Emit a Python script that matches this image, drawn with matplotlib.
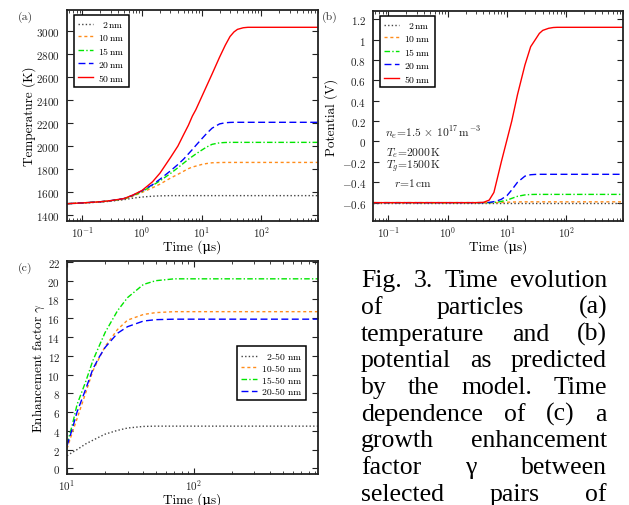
import numpy as np
import matplotlib
matplotlib.use('Agg')
import matplotlib.pyplot as plt
from matplotlib.ticker import FuncFormatter, LogLocator, MultipleLocator, NullFormatter

plt.rcParams.update({
    'font.family': ['cmr10', 'DejaVu Serif'],
    'mathtext.fontset': 'cm',
    'axes.formatter.use_mathtext': True,
    'axes.unicode_minus': True,
})

# ---------------- data ----------------
t_ab = [0.055, 0.1, 0.2, 0.3, 0.5, 0.7, 1, 1.5, 2, 3, 4, 5, 6, 7, 8, 10, 12, 15,
        20, 25, 30, 35, 40, 50, 60, 70, 100, 300, 900]

temp_2nm = [1500, 1505, 1514, 1522, 1535, 1548, 1558, 1565, 1568, 1570, 1570, 1570, 1570,
            1570, 1570, 1570, 1570, 1570, 1570, 1570, 1570, 1570, 1570, 1570, 1570, 1570,
            1570, 1570, 1570]
temp_10nm = [1500, 1507, 1516, 1525, 1540, 1565, 1598, 1638, 1670, 1722, 1755, 1782, 1804,
             1818, 1826, 1840, 1848, 1855, 1857, 1858, 1858, 1858, 1858, 1858, 1858, 1858,
             1858, 1858, 1858]
temp_15nm = [1500, 1507, 1517, 1526, 1543, 1570, 1605, 1658, 1698, 1762, 1812, 1852, 1885,
             1910, 1931, 1964, 1990, 2015, 2028, 2031, 2032, 2032, 2032, 2032, 2032, 2032,
             2032, 2032, 2032]
temp_20nm = [1500, 1507, 1517, 1527, 1545, 1573, 1612, 1665, 1712, 1785, 1840, 1887, 1932,
             1970, 2005, 2061, 2106, 2155, 2192, 2202, 2205, 2206, 2206, 2206, 2206, 2206,
             2206, 2206, 2206]
temp_50nm = [1500, 1507, 1517, 1527, 1545, 1575, 1615, 1690, 1765, 1900, 2000, 2100, 2180,
             2260, 2315, 2425, 2515, 2625, 2770, 2875, 2950, 2990, 3012, 3026, 3030, 3030,
             3030, 3030, 3030]

pot_2nm = [-0.6] * 29
pot_10nm = [-0.6, -0.6, -0.6, -0.6, -0.6, -0.6, -0.6, -0.6, -0.6, -0.6, -0.6, -0.6, -0.6,
            -0.599, -0.598, -0.596, -0.594, -0.593, -0.592, -0.592, -0.592, -0.592, -0.592,
            -0.592, -0.592, -0.592, -0.592, -0.592, -0.592]
pot_15nm = [-0.6, -0.6, -0.6, -0.6, -0.6, -0.6, -0.6, -0.6, -0.6, -0.6, -0.6, -0.6, -0.598,
            -0.594, -0.588, -0.575, -0.558, -0.538, -0.524, -0.52, -0.519, -0.519, -0.519,
            -0.519, -0.519, -0.519, -0.519, -0.519, -0.519]
pot_20nm = [-0.6, -0.6, -0.6, -0.6, -0.6, -0.6, -0.6, -0.6, -0.6, -0.6, -0.6, -0.598, -0.59,
            -0.58, -0.567, -0.53, -0.475, -0.40, -0.34, -0.326, -0.323, -0.322, -0.322,
            -0.322, -0.322, -0.322, -0.322, -0.322, -0.322]
pot_50nm = [-0.6, -0.6, -0.6, -0.6, -0.6, -0.6, -0.6, -0.6, -0.6, -0.6, -0.597, -0.575, -0.50,
            -0.34, -0.20, 0.02, 0.20, 0.46, 0.75, 0.93, 1.00, 1.06, 1.09, 1.11, 1.118, 1.12,
            1.12, 1.12, 1.12]

t_c = [10, 11, 12, 14, 16, 18, 20, 25, 30, 40, 50, 70, 100, 300, 950]
gamma_2_50 = [1.35, 1.7, 2.0, 2.6, 3.0, 3.35, 3.65, 4.05, 4.3, 4.47, 4.5, 4.5, 4.5, 4.5, 4.5]
gamma_10_50 = [2.1, 3.8, 5.3, 8.0, 10.4, 11.8, 13.0, 14.8, 15.8, 16.4, 16.6, 16.7, 16.7, 16.7, 16.7]
gamma_15_50 = [2.6, 4.6, 6.8, 9.2, 11.5, 13.1, 14.5, 16.8, 18.2, 19.6, 20.0, 20.2, 20.2, 20.2, 20.2]
gamma_20_50 = [2.4, 4.2, 6.0, 8.4, 10.6, 11.9, 12.9, 14.4, 15.1, 15.7, 15.85, 15.9, 15.9, 15.9, 15.9]

size_labels = [r"$\enspace2\,\mathrm{nm}$", r"$10\,\mathrm{nm}$", r"$15\,\mathrm{nm}$",
               r"$20\,\mathrm{nm}$", r"$50\,\mathrm{nm}$"]
pair_labels = [r"$\enspace$2-50 nm", "10-50 nm", "15-50 nm", "20-50 nm"]

caption_lines = ["Fig. 3. Time evolution", "of particles (a)", "temperature and (b)",
                 "potential as predicted", "by the model. Time", "dependence of (c) a",
                 "growth enhancement", "factor \u03b3 between", "selected pairs of"]

time_label = "Time (\u03bcs)"

# ---------------- styles ----------------
colors = ['#444444', '#ff8c1a', '#00e600', '#0000ff', '#ff0000']
dashes = [(1, 1.6), (2.2, 2.0), (4, 1.6, 1, 1.6), (5, 2.5), None]

W, H = 629, 506
fig = plt.figure(figsize=(W / 100, H / 100), dpi=100)

def ax_px(l, t, r, b):
    return fig.add_axes([l / W, 1 - b / H, (r - l) / W, (b - t) / H])

axa = ax_px(67, 11, 318, 222)
axb = ax_px(373, 12, 623, 222)
axc = ax_px(67, 262, 318, 475)

def style(ax):
    ax.tick_params(which='both', direction='in', top=True, right=True,
                   labelsize=8, colors='#222222')
    ax.tick_params(axis='y', pad=5)
    ax.tick_params(axis='x', pad=2.5)
    ax.tick_params(which='major', length=4, width=0.8)
    ax.tick_params(which='minor', length=2, width=0.6)
    for s in ax.spines.values():
        s.set_linewidth(1.3)
        s.set_color('#222222')

def draw(ax, x, ys, labels, cols, dsh):
    for y, lab, c, d in zip(ys, labels, cols, dsh):
        ln, = ax.plot(x, y, color=c, lw=1.0, label=lab)
        if d is not None:
            ln.set_dashes(d)

num_fmt = FuncFormatter(lambda v, p: "$%s$" % ("%g" % round(v, 2) if abs(v) > 1e-9 else "0"))

# (a)
draw(axa, t_ab, [temp_2nm, temp_10nm, temp_15nm, temp_20nm, temp_50nm], size_labels, colors, dashes)
axa.set_xscale('log')
axa.set_xlim(0.055, 900)
axa.set_ylim(1350, 3180)
axa.yaxis.set_major_locator(MultipleLocator(200))
axa.yaxis.set_major_formatter(num_fmt)
axa.set_ylabel("Temperature (K)", fontsize=9.5)
axa.set_xlabel(time_label, fontsize=9.5, labelpad=0)

# (b)
draw(axb, t_ab, [pot_2nm, pot_10nm, pot_15nm, pot_20nm, pot_50nm], size_labels, colors, dashes)
axb.set_xscale('log')
axb.set_xlim(0.055, 900)
axb.set_ylim(-0.78, 1.28)
axb.yaxis.set_major_locator(MultipleLocator(0.2))
axb.yaxis.set_major_formatter(num_fmt)
axb.set_ylabel("Potential (V)", fontsize=9.5)
axb.set_xlabel(time_label, fontsize=9.5, labelpad=0)
ann = [r"$n_e$=1.5$\,\times\,$10$^{17}\,$m$^{-3}$", r"$T_e$=2000$\,$K",
       r"$T_g$=1500$\,$K", r"$r$=1$\,$cm"]
ann_pos = [(0.048, 0.406), (0.052, 0.316), (0.052, 0.252), (0.084, 0.168)]
for s, (x, y) in zip(ann, ann_pos):
    axb.text(x, y, s, transform=axb.transAxes, fontsize=8.3, va='baseline', ha='left',
             color='#222222')

# (c)
draw(axc, t_c, [gamma_2_50, gamma_10_50, gamma_15_50, gamma_20_50], pair_labels, colors[:4], dashes[:4])
axc.set_xscale('log')
axc.set_xlim(10, 950)
axc.set_ylim(-0.6, 22.1)
axc.yaxis.set_major_locator(MultipleLocator(2))
axc.yaxis.set_major_formatter(num_fmt)
axc.set_ylabel(r"Enhancement factor $\gamma$", fontsize=9.5)
axc.set_xlabel(time_label, fontsize=9.5, labelpad=0)

for ax in (axa, axb, axc):
    style(ax)
    ax.xaxis.set_major_locator(LogLocator(base=10))
    ax.xaxis.set_minor_locator(LogLocator(base=10, subs=np.arange(2, 10)))
    ax.xaxis.set_minor_formatter(NullFormatter())

axa.yaxis.set_label_coords(-0.125, 0.5)
axb.yaxis.set_label_coords(-0.138, 0.5)
axc.yaxis.set_label_coords(-0.08, 0.5)

def legend(ax, **kw):
    leg = ax.legend(fontsize=7, frameon=True, fancybox=False, framealpha=1,
                    edgecolor='black', borderaxespad=0, handlelength=1.6,
                    handletextpad=0.5, labelspacing=0.3, borderpad=0.4, **kw)
    leg.get_frame().set_linewidth(1.1)
    return leg

legend(axa, loc='upper left', bbox_to_anchor=(0.028, 0.976))
legend(axb, loc='upper left', bbox_to_anchor=(0.028, 0.976))
legend(axc, loc='upper right', bbox_to_anchor=(0.952, 0.60))

# panel labels
for s, (x, y) in zip(["(a)", "(b)", "(c)"], [(25, 17), (330, 17), (25, 268)]):
    fig.text(x / W, 1 - y / H, s, fontsize=8.5, ha='center', va='center', color='#333333')

# justified caption
fig.canvas.draw()
rend = fig.canvas.get_renderer()
left_px, right_px = 361, 607
for i, line in enumerate(caption_lines):
    words = line.split()
    base = 287.3 + 26.7 * i
    txts = [fig.text(0, 1 - base / H, w, fontsize=18.5, family='Liberation Serif',
                     ha='left', va='baseline', color='black') for w in words]
    widths = [t.get_window_extent(renderer=rend).width for t in txts]
    gap = (right_px - left_px - sum(widths)) / max(len(words) - 1, 1)
    x = left_px
    for t, wd in zip(txts, widths):
        t.set_x(x / W)
        x += wd + gap

fig.savefig('out.png', dpi=100)
